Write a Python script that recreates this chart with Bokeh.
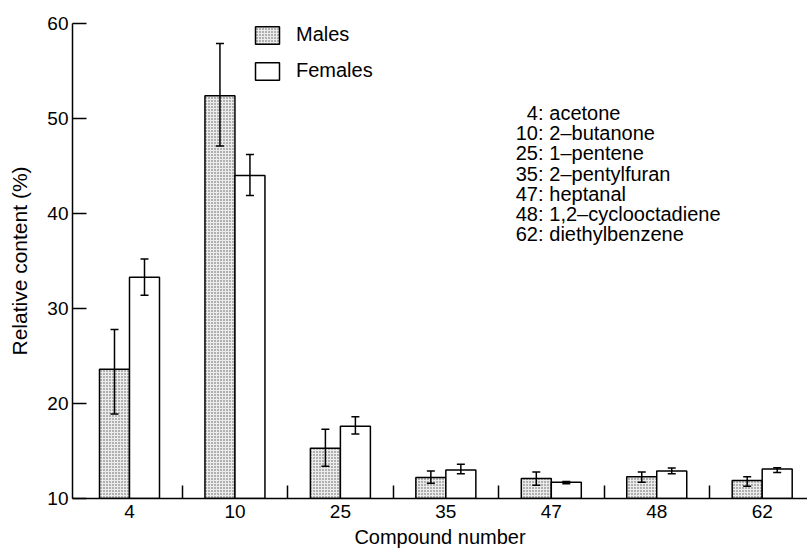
import numpy as np
from bokeh.plotting import figure
from bokeh.models import (ColumnDataSource, Whisker, TeeHead, FixedTicker, Range1d,
                          Legend, LegendItem)
from bokeh.embed import file_html
from bokeh.resources import INLINE
from bokeh.core.properties import value

# ---- data ----
compounds = ["4", "10", "25", "35", "47", "48", "62"]
compound_names = ["acetone", "2–butanone", "1–pentene", "2–pentylfuran",
                  "heptanal", "1,2–cyclooctadiene", "diethylbenzene"]
males = [23.6, 52.4, 15.3, 12.2, 12.1, 12.3, 11.9]
males_lo = [18.9, 47.1, 13.4, 11.6, 11.4, 11.7, 11.3]
males_hi = [27.8, 57.9, 17.3, 12.9, 12.8, 12.8, 12.3]
females = [33.3, 44.0, 17.6, 13.0, 11.7, 12.9, 13.1]
females_lo = [31.4, 41.9, 16.8, 12.6, 11.55, 12.6, 12.75]
females_hi = [35.2, 46.2, 18.6, 13.6, 11.8, 13.2, 13.25]
y_ticks = [10, 20, 30, 40, 50, 60]

FONT = "Liberation Sans"
idx = np.arange(len(compounds))
bw = 0.2845

src = ColumnDataSource(dict(
    xm=idx - bw / 2, xf=idx + bw / 2,
    males=males, males_lo=males_lo, males_hi=males_hi,
    females=females, females_lo=females_lo, females_hi=females_hi,
))

p = figure(width=807, height=552, x_range=Range1d(-0.5405, 6.4296),
           y_range=Range1d(10, 60), output_backend="svg", toolbar_location=None,
           min_border_left=72, min_border_right=0, min_border_top=23,
           min_border_bottom=54)
p.outline_line_color = None
p.grid.visible = False
p.background_fill_color = "white"
p.border_fill_color = "white"

rm = p.vbar(x="xm", top="males", bottom=10, width=bw, source=src,
            fill_color="#ececec", hatch_pattern="dot", hatch_color="#555555",
            hatch_scale=3, hatch_weight=1, line_color="black", line_width=1.5)
rf = p.vbar(x="xf", top="females", bottom=10, width=bw, source=src,
            fill_color="white", line_color="black", line_width=1.5)

for base, lo, hi in (("xm", "males_lo", "males_hi"), ("xf", "females_lo", "females_hi")):
    w = Whisker(base=base, lower=lo, upper=hi, source=src, line_width=1.5,
                line_color="black", level="annotation",
                upper_head=TeeHead(size=8, line_width=1.5, line_color="black"),
                lower_head=TeeHead(size=8, line_width=1.5, line_color="black"))
    p.add_layout(w)

# x axis
xa = p.xaxis[0]
xa.ticker = FixedTicker(ticks=[float(i) for i in idx],
                        minor_ticks=[float(i) + 0.5 for i in idx[:-1]])
xa.major_label_overrides = {float(i): c for i, c in zip(idx, compounds)}
xa.major_tick_in = 0
xa.major_tick_out = 0
xa.minor_tick_in = 13
xa.minor_tick_out = 0
xa.minor_tick_line_width = 1.5
xa.axis_line_width = 1.5
xa.major_label_standoff = 6
xa.major_label_text_font = FONT
xa.major_label_text_font_size = "19px"
xa.major_label_text_color = "black"
xa.axis_label = "Compound number"
xa.axis_label_standoff = 5
xa.axis_label_text_font = FONT
xa.axis_label_text_font_size = "20px"
xa.axis_label_text_font_style = "normal"
xa.axis_label_text_color = "black"

# y axis
ya = p.yaxis[0]
ya.ticker = FixedTicker(ticks=y_ticks, minor_ticks=[])
ya.major_tick_in = 14
ya.major_tick_out = 0
ya.major_tick_line_width = 1.5
ya.minor_tick_in = 0
ya.minor_tick_out = 0
ya.axis_line_width = 1.5
ya.major_label_standoff = 4
ya.major_label_text_font = FONT
ya.major_label_text_font_size = "19px"
ya.major_label_text_color = "black"
ya.axis_label = "Relative content (%)"
ya.axis_label_standoff = 13
ya.axis_label_text_font = FONT
ya.axis_label_text_font_size = "21px"
ya.axis_label_text_font_style = "normal"
ya.axis_label_text_color = "black"

# legend
legend = Legend(items=[LegendItem(label="Males", renderers=[rm]),
                       LegendItem(label="Females", renderers=[rf])],
                location=(180, 416), glyph_width=30, glyph_height=22,
                label_standoff=14, spacing=13, padding=4, margin=0,
                border_line_color=None, background_fill_alpha=0,
                label_text_font=FONT, label_text_font_size="20px",
                label_text_color="black")
p.add_layout(legend)

# compound key
y0 = 10 + (498 - 112.7) / 9.5
step = 20.1 / 9.5
ys = [y0 - step * k for k in range(len(compounds))]
p.text(x=[3.926] * len(compounds), y=ys, text=[c + ":" for c in compounds],
       text_align="right", text_baseline="middle", text_font=value(FONT),
       text_font_size="20px", text_color="black")
p.text(x=[3.981] * len(compounds), y=ys, text=compound_names,
       text_align="left", text_baseline="middle", text_font=value(FONT),
       text_font_size="20px", text_color="black")

open("out.html", "w").write(file_html(p, INLINE))
